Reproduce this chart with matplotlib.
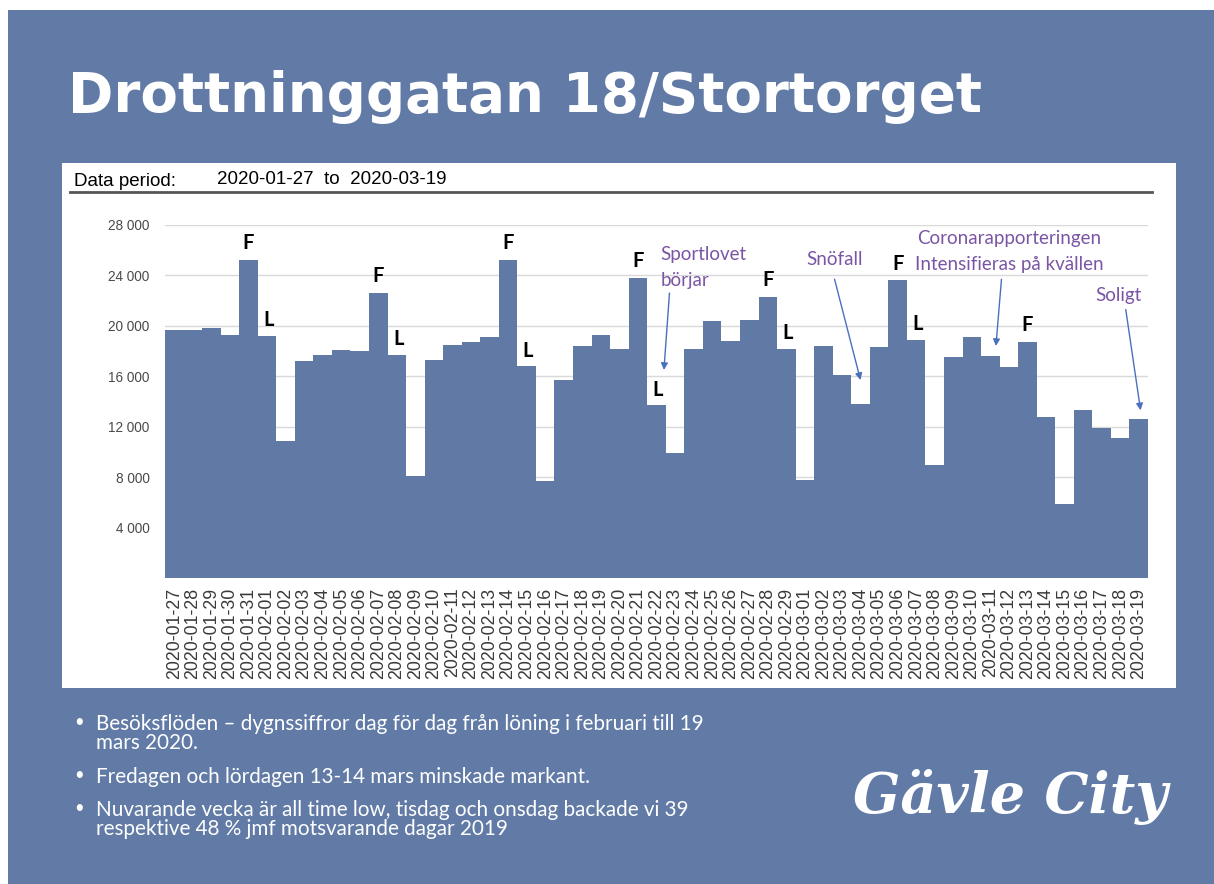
import matplotlib.pyplot as plt
from matplotlib.patches import Rectangle
from matplotlib.ticker import FuncFormatter
import pandas as pd

# --- Data (visitors per day) ---
dates = pd.date_range('2020-01-27', '2020-03-19', freq='D').strftime('%Y-%m-%d').tolist()
visitors = [19700, 19700, 19800, 19300, 25200, 19200, 10900,
            17200, 17700, 18100, 18000, 22600, 17700, 8100,
            17300, 18500, 18700, 19100, 25200, 16800, 7700,
            15700, 18400, 19300, 18200, 23800, 13700, 9900,
            18200, 20400, 18800, 20500, 22300, 18200, 7800,
            18400, 16100, 13800, 18300, 23600, 18900, 9000,
            17500, 19100, 17600, 16700, 18700, 12800, 5900,
            13300, 11900, 11100, 12600]

fridays = [4, 11, 18, 25, 32, 39, 46]
saturdays = [5, 12, 19, 26, 33, 40]

# notes: (text, text x, text y, ha, arrow tail, arrow tip)
notes = [
    ('Sportlovet\nbörjar', 26.2, 24600, 'left', (26.7, 22600), (26.4, 16500)),
    ('Snöfall', 35.6, 25300, 'center', (35.6, 23700), (37.0, 15700)),
    ('Coronarapporteringen\nIntensifieras på kvällen', 45.0, 25900, 'center', (44.6, 23700), (44.3, 18400)),
    ('Soligt', 50.9, 22400, 'center', (51.3, 21300), (52.1, 13300)),
]

W, H = 1214, 884
slide_blue = '#617ba6'
bar_blue = '#607aa5'
purple = '#7a55a5'
arrow_blue = '#4a70bd'

def fx(px):
    return px / W

def fy(py):
    return 1 - py / H

fig = plt.figure(figsize=(W / 100, H / 100), dpi=100)
fig.patch.set_facecolor('white')

# slide background and white chart panel
fig.patches.append(Rectangle((fx(8), 0), fx(W - 8), 1 - 10 / H, transform=fig.transFigure,
                             facecolor=slide_blue, edgecolor='none', zorder=-3))
fig.patches.append(Rectangle((fx(62), fy(688)), fx(1176 - 62), (688 - 163) / H, transform=fig.transFigure,
                             facecolor='white', edgecolor='none', zorder=-2))

# --- Title ---
fig.text(fx(68), fy(97), 'Drottninggatan 18/Stortorget', color='white', fontsize=39.3,
         fontweight='bold', family='DejaVu Sans', va='center', ha='left')

# --- Data period header ---
fig.text(fx(74), fy(181), 'Data period:', fontsize=13.5, family='Liberation Sans', va='center')
fig.text(fx(217), fy(180), '2020-01-27  to  2020-03-19', fontsize=13.5, family='Liberation Sans', va='center')
fig.add_artist(plt.Line2D([fx(70), fx(1152)], [fy(192), fy(192)], color='#555555', lw=2,
                          transform=fig.transFigure))

# --- Chart ---
ax = fig.add_axes([fx(165), fy(578), fx(1148 - 165), (578 - 225) / H])
ax.set_zorder(5)
ax.set_facecolor('white')
x = list(range(len(dates)))
ax.bar(x, visitors, width=1.0, color=bar_blue, zorder=2)
ax.set_xlim(-0.5, len(dates) - 0.5)
ax.set_ylim(0, 28000)
ax.set_yticks(range(4000, 28001, 4000))
ax.yaxis.set_major_formatter(FuncFormatter(lambda v, p: f'{int(v):,}'.replace(',', ' ')))
ax.grid(axis='y', color='#d9d9d9', lw=1, zorder=0)
ax.set_axisbelow(True)
ax.set_xticks(x)
ax.set_xticklabels(dates, rotation=90, fontsize=12.8, family='Liberation Sans', color='#3a3a3a')
ax.tick_params(axis='y', length=0, pad=11, labelsize=9.8, labelcolor='#4a4a4a')
ax.tick_params(axis='x', length=0, pad=7)
for lbl in ax.get_yticklabels():
    lbl.set_family('Liberation Sans')
for s in ax.spines.values():
    s.set_visible(False)

for i in fridays:
    ax.annotate('F', (i, visitors[i]), xytext=(0, 5), textcoords='offset points', ha='center',
                va='bottom', fontsize=14.5, fontweight='bold', family='Lato', annotation_clip=False)
for i in saturdays:
    ax.annotate('L', (i, visitors[i]), xytext=(1, 4), textcoords='offset points', ha='center',
                va='bottom', fontsize=14.5, fontweight='bold', family='Lato', annotation_clip=False)

for text, tx, ty, ha, tail, tip in notes:
    ax.text(tx, ty, text, color=purple, fontsize=13.5, family='Lato', ha=ha, va='center',
            linespacing=1.65, clip_on=False)
    ax.annotate('', xy=tip, xytext=tail, annotation_clip=False,
                arrowprops=dict(arrowstyle='-|>', color=arrow_blue, lw=1, mutation_scale=10,
                                shrinkA=0, shrinkB=0))

# --- Bullet text ---
bullets = [
    (722, 'Besöksflöden – dygnssiffror dag för dag från löning i februari till 19\nmars 2020.'),
    (775, 'Fredagen och lördagen 13-14 mars minskade markant.'),
    (808, 'Nuvarande vecka är all time low, tisdag och onsdag backade vi 39\nrespektive 48 % jmf motsvarande dagar 2019'),
]
for py, txt in bullets:
    fig.text(fx(74), fy(py), '•', color='white', fontsize=12, family='Lato', va='center')
    fig.text(fx(96), fy(py - 8), txt, color='white', fontsize=14.9, family='Lato', va='top',
             linespacing=0.95)

# --- Logo ---
fig.text(fx(1010), fy(797), 'Gävle City', color='white', fontsize=40, family='DejaVu Serif',
         style='italic', fontweight='bold', ha='center', va='center')

fig.savefig('out.png', dpi=100, facecolor=fig.get_facecolor())
